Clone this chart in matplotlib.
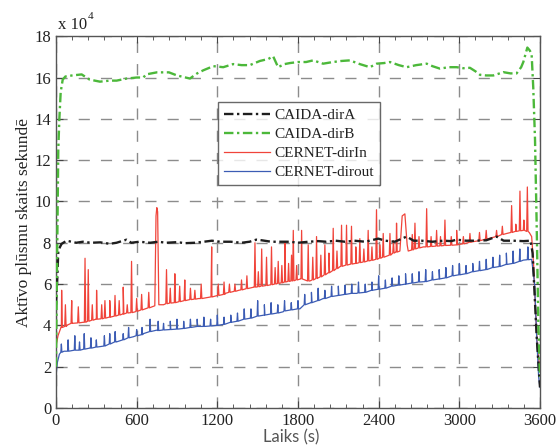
import numpy as np
import matplotlib
matplotlib.use("Agg")
import matplotlib.pyplot as plt

# values in units of 1e4 flows, time in s
caida_a = [(0, 5.0), (8, 6.0), (17, 7.6), (30, 7.8), (42, 7.95), (79, 8.1), (150, 8.0), (200, 8.05),
           (260, 8.0), (330, 8.02), (400, 7.95), (450, 8.0), (525, 8.15), (560, 8.0), (620, 8.05),
           (700, 8.0), (760, 8.05), (820, 8.0), (900, 8.03), (960, 7.98), (1030, 8.0), (1100, 8.05),
           (1160, 8.1), (1220, 8.05), (1300, 8.05), (1380, 8.0), (1440, 8.05), (1490, 8.15),
           (1530, 8.12), (1600, 8.05), (1680, 8.05), (1740, 8.05), (1800, 8.0), (1880, 8.05),
           (1950, 8.08), (2010, 8.05), (2080, 8.1), (2150, 8.05), (2220, 8.1), (2300, 8.05),
           (2397, 8.2), (2450, 8.1), (2520, 8.05), (2608, 8.3), (2660, 8.1), (2720, 8.1),
           (2800, 8.05), (2880, 8.1), (2940, 8.08), (2980, 8.15), (3050, 8.1), (3120, 8.1),
           (3200, 8.12), (3277, 8.3), (3330, 8.1), (3400, 8.1), (3476, 8.08), (3530, 8.1),
           (3545, 7.5), (3560, 5.5), (3575, 3.5), (3590, 2.0), (3600, 1.0)]

caida_b = [(0, 2.0), (8, 7.0), (17, 12.5), (25, 14.0), (35, 15.3), (50, 15.9), (70, 16.05),
           (120, 16.1), (191, 16.15), (250, 15.9), (327, 15.8), (400, 15.85), (451, 15.85),
           (525, 15.95), (600, 16.0), (650, 16.0), (670, 16.15), (750, 16.25), (840, 16.25),
           (900, 16.1), (996, 15.95), (1050, 16.2), (1096, 16.35), (1170, 16.55), (1244, 16.5),
           (1318, 16.65), (1380, 16.6), (1442, 16.6), (1516, 16.8), (1580, 16.9), (1615, 17.03),
           (1652, 16.5), (1700, 16.65), (1740, 16.7), (1800, 16.75), (1860, 16.75), (1913, 16.83),
           (1987, 16.67), (2060, 16.75), (2120, 16.8), (2186, 16.83), (2260, 16.65), (2335, 16.5),
           (2385, 16.67), (2440, 16.7), (2484, 16.75), (2550, 16.6), (2608, 16.5), (2680, 16.6),
           (2757, 16.67), (2800, 16.55), (2856, 16.43), (2920, 16.5), (2980, 16.5), (3030, 16.45),
           (3079, 16.47), (3120, 16.3), (3154, 16.13), (3200, 16.1), (3253, 16.1), (3300, 16.2),
           (3327, 16.26), (3380, 16.2), (3426, 16.2), (3460, 16.5), (3476, 16.75), (3506, 17.45),
           (3525, 17.3), (3538, 17.1), (3550, 15.5), (3563, 13.0), (3575, 9.0), (3588, 4.0),
           (3600, 1.5)]

cernet_in_base = [(0, 3.0), (15, 3.5), (40, 3.9), (80, 4.0), (120, 4.1), (200, 4.15), (300, 4.3),
                  (400, 4.4), (500, 4.55), (590, 4.66), (714, 4.9), (735, 4.95), (744, 9.3),
                  (750, 9.7), (756, 9.5), (765, 5.0), (800, 5.0), (880, 5.1), (962, 5.22),
                  (1060, 5.3), (1160, 5.38), (1260, 5.55), (1360, 5.7), (1470, 5.85), (1583, 5.95),
                  (1700, 6.1), (1819, 6.25), (1888, 6.15), (1950, 6.3), (2030, 6.55), (2111, 6.84),
                  (2230, 7.0), (2360, 7.16), (2460, 7.35), (2530, 7.55), (2558, 7.6), (2575, 9.3),
                  (2595, 9.4), (2612, 7.9), (2620, 7.6), (2732, 7.8), (2850, 7.85), (2980, 7.9),
                  (3100, 8.05), (3228, 8.22), (3352, 8.45), (3420, 8.55), (3476, 8.6), (3520, 8.5),
                  (3538, 8.3), (3552, 7.0), (3565, 5.0), (3580, 3.0), (3600, 1.8)]

# (time, base, peak)
cernet_in_spikes = [(42, 3.9, 5.7), (70, 3.95, 5.0), (117, 4.1, 5.2), (166, 4.12, 4.9),
                    (216, 4.15, 7.25), (240, 4.2, 6.7), (270, 4.25, 5.0), (302, 4.3, 5.7),
                    (340, 4.32, 5.0), (364, 4.35, 5.2), (400, 4.4, 5.2), (439, 4.45, 5.45),
                    (470, 4.5, 5.2), (500, 4.55, 5.85), (530, 4.6, 5.0), (562, 4.62, 7.1),
                    (600, 4.68, 5.3), (637, 4.75, 5.5), (690, 4.85, 5.6), (822, 5.05, 6.7),
                    (850, 5.08, 5.8), (884, 5.1, 6.5), (920, 5.15, 5.9), (958, 5.2, 6.2),
                    (1000, 5.25, 5.8), (1033, 5.27, 5.7), (1080, 5.3, 6.0), (1158, 5.38, 7.8),
                    (1207, 5.45, 6.0), (1250, 5.5, 6.1), (1290, 5.6, 6.0), (1331, 5.65, 6.0),
                    (1380, 5.72, 6.2), (1420, 5.78, 6.4), (1480, 5.85, 8.0), (1505, 5.87, 6.6),
                    (1530, 5.9, 7.7), (1566, 5.93, 7.3), (1603, 5.97, 7.8), (1630, 6.0, 6.8),
                    (1653, 6.03, 7.1), (1680, 6.06, 6.9), (1703, 6.1, 8.0), (1730, 6.13, 7.0),
                    (1752, 6.15, 7.4), (1765, 6.16, 8.6), (1790, 6.2, 6.9), (1827, 6.25, 8.6),
                    (1876, 6.15, 7.9), (1910, 6.2, 7.3), (1938, 6.27, 8.3), (1970, 6.35, 7.4),
                    (2000, 6.45, 7.9), (2030, 6.55, 7.5), (2062, 6.65, 8.7), (2090, 6.75, 7.6),
                    (2124, 6.86, 8.85), (2161, 6.92, 8.85), (2198, 6.97, 8.8), (2230, 7.0, 7.8),
                    (2260, 7.04, 8.2), (2290, 7.07, 7.7), (2322, 7.12, 8.6), (2350, 7.15, 7.8),
                    (2384, 7.2, 9.6), (2410, 7.25, 7.9), (2434, 7.3, 8.45), (2484, 7.4, 8.45),
                    (2510, 7.5, 8.1), (2533, 7.55, 8.95), (2650, 7.65, 8.4), (2670, 7.7, 8.95),
                    (2700, 7.75, 8.3), (2757, 7.8, 9.65), (2790, 7.82, 8.3), (2831, 7.84, 8.6),
                    (2860, 7.85, 8.3), (2893, 7.87, 9.1), (2940, 7.88, 8.3), (2980, 7.9, 8.6),
                    (3030, 7.95, 8.3), (3079, 8.02, 8.45), (3150, 8.1, 8.5), (3200, 8.18, 8.6),
                    (3277, 8.3, 8.6), (3320, 8.4, 8.8), (3389, 8.5, 9.8), (3420, 8.55, 8.9),
                    (3451, 8.58, 10.5), (3480, 8.6, 9.1), (3506, 8.55, 10.7)]

cernet_out_base = [(0, 1.5), (10, 2.2), (25, 2.6), (60, 2.75), (150, 2.8), (250, 2.9), (327, 2.97),
                   (450, 3.2), (575, 3.45), (650, 3.6), (749, 3.77), (850, 3.8), (948, 3.87),
                   (1050, 3.95), (1195, 4.0), (1300, 4.15), (1442, 4.35), (1550, 4.5), (1690, 4.66),
                   (1814, 4.8), (1900, 5.1), (1987, 5.3), (2100, 5.45), (2235, 5.55), (2350, 5.7),
                   (2484, 5.87), (2600, 6.0), (2732, 6.11), (2850, 6.25), (2980, 6.43), (3100, 6.6),
                   (3228, 6.76), (3350, 6.95), (3476, 7.16), (3538, 7.2), (3560, 6.0), (3575, 3.5),
                   (3590, 1.5), (3600, 1.0)]

cernet_out_spikes = [(40, 2.7, 3.1), (90, 2.75, 3.3), (140, 2.8, 3.5), (175, 2.8, 3.2),
                     (210, 2.85, 3.6), (260, 2.9, 3.4), (300, 2.95, 3.3), (360, 3.0, 3.5),
                     (400, 3.1, 3.6), (440, 3.2, 3.7), (500, 3.3, 3.6), (540, 3.4, 3.9),
                     (600, 3.5, 3.8), (640, 3.55, 3.9), (700, 3.7, 4.3), (760, 3.75, 4.2),
                     (800, 3.78, 4.1), (850, 3.8, 4.2), (900, 3.82, 4.3), (950, 3.85, 4.2),
                     (1000, 3.9, 4.3), (1050, 3.95, 4.3), (1100, 3.95, 4.4), (1150, 3.97, 4.3),
                     (1200, 4.0, 4.5), (1250, 4.05, 4.4), (1300, 4.15, 4.5), (1350, 4.2, 4.6),
                     (1400, 4.3, 4.8), (1450, 4.35, 4.8), (1500, 4.45, 5.2), (1550, 4.5, 5.0),
                     (1600, 4.55, 5.1), (1650, 4.6, 5.0), (1700, 4.7, 5.2), (1750, 4.75, 5.1),
                     (1800, 4.8, 5.2), (1850, 5.0, 5.5), (1900, 5.1, 5.6), (1950, 5.2, 5.8),
                     (2000, 5.3, 5.7), (2050, 5.4, 5.9), (2100, 5.45, 5.9), (2150, 5.5, 5.95),
                     (2200, 5.55, 6.0), (2250, 5.57, 6.1), (2300, 5.6, 6.0), (2350, 5.7, 6.1),
                     (2400, 5.75, 6.4), (2450, 5.8, 6.2), (2500, 5.9, 6.3), (2550, 5.95, 6.4),
                     (2600, 6.0, 6.5), (2650, 6.05, 6.5), (2700, 6.1, 6.6), (2750, 6.12, 6.7),
                     (2800, 6.2, 6.6), (2850, 6.25, 6.7), (2900, 6.3, 6.8), (2950, 6.4, 6.9),
                     (3000, 6.45, 7.0), (3050, 6.5, 6.9), (3100, 6.6, 7.0), (3150, 6.65, 7.1),
                     (3200, 6.7, 7.2), (3250, 6.8, 7.3), (3300, 6.85, 7.4), (3350, 6.95, 7.5),
                     (3400, 7.0, 7.6), (3450, 7.1, 7.7), (3510, 7.18, 7.8)]


def with_spikes(base, spikes, hw):
    pts = list(base)
    for t, b, p in spikes:
        pts += [(t - hw, b), (t, p), (t + hw, b)]
    pts.sort()
    t, y = zip(*pts)
    return np.array(t), np.array(y)


serif = "Liberation Serif"
plt.rcParams["font.family"] = serif

fig = plt.figure(figsize=(5.56, 4.47), dpi=100)
ax = fig.add_axes([0.1007, 0.0872, 0.8705, 0.8318])

rt, ry = with_spikes(cernet_in_base, cernet_in_spikes, 5)
bt, by = with_spikes(cernet_out_base, cernet_out_spikes, 4)
at, ay = zip(*caida_a)
gt, gy = zip(*caida_b)

h_red, = ax.plot(rt, ry, color="#f0443a", lw=0.9, zorder=2, label="CERNET-dirIn")
h_blue, = ax.plot(bt, by, color="#3c5cb4", lw=0.9, zorder=2, label="CERNET-dirout")
h_a, = ax.plot(at, ay, color="#1e1e1e", lw=1.7, dashes=(4, 1.5, 1, 1.5), zorder=3,
               label="CAIDA-dirA")
h_b, = ax.plot(gt, gy, color="#4cb83a", lw=1.7, dashes=(4, 1.5, 1, 1.5), zorder=3,
               label="CAIDA-dirB")

ax.set_xlim(0, 3600)
ax.set_ylim(0, 18)
ax.set_xticks(range(0, 3601, 600))
ax.set_xticks(range(0, 3601, 120), minor=True)
ax.set_yticks(range(0, 19, 2))
ax.grid(True, which="major", color="#8c8c8c", lw=1.0, dashes=(8, 8))
ax.tick_params(which="both", direction="in", top=True, right=True, colors="#444444",
               labelsize=12, labelcolor="#222222")
ax.tick_params(which="major", length=5)
ax.tick_params(which="minor", length=3)
for s in ax.spines.values():
    s.set_color("#555555")
    s.set_linewidth(1.0)

ax.set_ylabel("Aktīvo plūsmu skaits sekundē", fontsize=12.5, color="#222222", labelpad=2)
fig.text(291 / 556, 0.003, "Laiks (s)", family="Lato", fontsize=12, color="#555555",
         ha="center", va="bottom")
ax.text(0.005, 1.008, "x 10", transform=ax.transAxes, fontsize=12, color="#222222",
        ha="left", va="bottom")
ax.text(0.066, 1.042, "4", transform=ax.transAxes, fontsize=8, color="#222222",
        ha="left", va="bottom")

leg = ax.legend(handles=[h_a, h_b, h_red, h_blue], loc="upper left",
                bbox_to_anchor=(0.334, 0.822), fontsize=11, frameon=True, fancybox=False,
                handlelength=3.0, handletextpad=0.3, borderpad=0.4, borderaxespad=0.0,
                labelspacing=0.35)
leg.get_frame().set_edgecolor("#444444")
leg.get_frame().set_linewidth(1.0)
for t in leg.get_texts():
    t.set_color("#222222")

fig.savefig("out.png", dpi=100)
